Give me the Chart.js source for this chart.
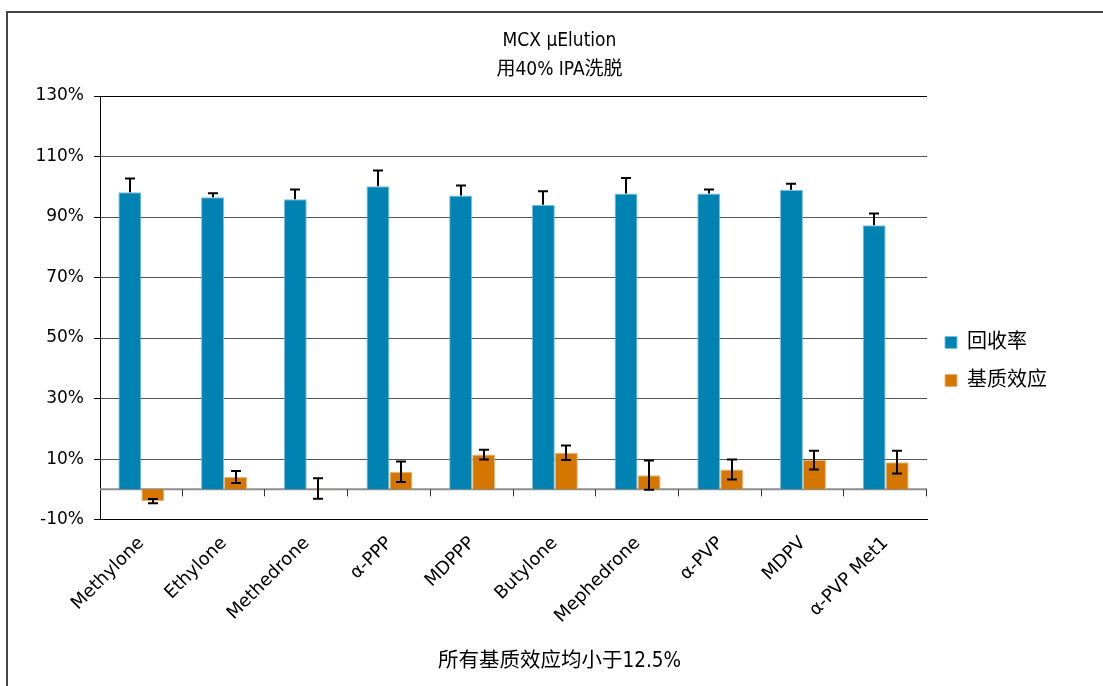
<!DOCTYPE html>
<html>
<head>
<meta charset="utf-8">
<script src="https://cdn.jsdelivr.net/npm/chart.js@4.4.0/dist/chart.umd.min.js"></script>
<style>
  html, body { margin: 0; padding: 0; background: #fff; overflow: hidden; }
  #wrap { position: relative; width: 1103px; height: 686px; }
  #frame { position: absolute; left: 6px; top: 11px; width: 1200px; height: 800px; border: 2px solid #444; box-sizing: border-box; }
  #myChart { position: absolute; left: 0; top: 0; }
</style>
</head>
<body>
<div id="wrap">
  <div id="frame"></div>
  <canvas id="myChart" width="1103" height="686"></canvas>
</div>
<script>
// data
const categories = ['Methylone', 'Ethylone', 'Methedrone', 'α-PPP', 'MDPPP', 'Butylone', 'Mephedrone', 'α-PVP', 'MDPV', 'α-PVP Met1'];
const recovery = [98.2, 96.5, 95.9, 100.2, 97.1, 94.1, 97.8, 97.8, 99.0, 87.3];
const recoveryErr = [4.5, 1.4, 3.2, 5.2, 3.3, 4.4, 5.1, 1.3, 2.0, 3.9];
const matrixEffect = [-3.9, 4.1, 0.3, 5.8, 11.5, 12.1, 4.7, 6.6, 9.7, 9.0];
const matrixErr = [0.7, 2.0, 3.4, 3.4, 1.6, 2.4, 4.85, 3.3, 3.1, 3.75];
const yTicks = [-10, 10, 30, 50, 70, 90, 110, 130];

const latin = '"DejaVu Sans", "Noto Sans CJK SC", sans-serif';
const narrow = '"Liberation Sans Narrow", "DejaVu Sans Condensed", "Noto Sans CJK SC", sans-serif';

// zero line, error bars and category ticks on the zero line
const extras = {
    id: 'extras',
    afterLayout(chart) {
        // titles sit a bit right of the canvas centre in the original
        chart.boxes.forEach(b => {
            if (b instanceof Chart.Title._element) {
                b.left += 24;
                b.right += 24;
            }
        });
    },
    beforeDatasetsDraw(chart) {
        const c = chart.ctx;
        const y0 = chart.scales.y.getPixelForValue(0);
        const a = chart.chartArea;
        c.save();
        c.strokeStyle = '#8c8c8c';
        c.lineWidth = 2;
        c.beginPath();
        c.moveTo(a.left, y0);
        c.lineTo(a.right, y0);
        c.stroke();
        c.restore();
    },
    afterDatasetsDraw(chart) {
        const c = chart.ctx;
        const y = chart.scales.y;
        const x = chart.scales.x;
        c.save();
        const y0 = y.getPixelForValue(0);
        c.strokeStyle = '#333';
        c.lineWidth = 1;
        const n = categories.length;
        for (let i = 1; i <= n; i++) {
            const px = Math.round(x.left + i * x.width / n) - 0.5;
            c.beginPath();
            c.moveTo(px, y0);
            c.lineTo(px, y0 + 7);
            c.stroke();
        }
        // error bars
        c.strokeStyle = '#000';
        c.lineWidth = 2;
        const errs = [recoveryErr, matrixErr];
        const both = [false, true];
        chart.data.datasets.forEach((ds, di) => {
            const meta = chart.getDatasetMeta(di);
            meta.data.forEach((bar, i) => {
                const v = ds.data[i];
                const e = errs[di][i];
                const top = y.getPixelForValue(v + e);
                const bot = both[di] ? y.getPixelForValue(v - e) : y.getPixelForValue(v);
                const bx = Math.round(bar.x);
                c.beginPath();
                c.moveTo(bx, top);
                c.lineTo(bx, bot);
                c.moveTo(bx - 5, top);
                c.lineTo(bx + 5, top);
                if (both[di]) {
                    c.moveTo(bx - 5, bot);
                    c.lineTo(bx + 5, bot);
                }
                c.stroke();
            });
        });
        c.restore();
    }
};

new Chart(document.getElementById('myChart'), {
    type: 'bar',
    data: {
        labels: categories,
        datasets: [{
            label: '回收率',
            data: recovery,
            backgroundColor: '#0082b3',
            borderColor: '#7fc0da',
            borderWidth: 1
        }, {
            label: '基质效应',
            data: matrixEffect,
            backgroundColor: '#d47600',
            borderColor: '#eab47a',
            borderWidth: 1
        }]
    },
    options: {
        responsive: false,
        animation: false,
        layout: {
            padding: { left: 14, right: 46, top: 27, bottom: 12 }
        },
        datasets: {
            bar: { barPercentage: 1, categoryPercentage: 0.556 }
        },
        scales: {
            x: {
                grid: { display: false },
                border: { color: '#000', width: 1 },
                ticks: {
                    color: '#000',
                    font: { family: latin, size: 18 },
                    minRotation: 45,
                    maxRotation: 45,
                    padding: 5
                }
            },
            y: {
                min: -10,
                max: 130,
                afterBuildTicks(axis) {
                    axis.ticks = yTicks.map(v => ({ value: v }));
                },
                afterFit(axis) {
                    axis.width = 86;
                },
                grid: {
                    color: ctx => {
                        const v = ctx.tick && ctx.tick.value;
                        return (v === -10 || v === 130) ? '#000' : '#555';
                    },
                    lineWidth: 1,
                    tickLength: 6,
                    tickColor: '#000'
                },
                border: { color: '#000', width: 1 },
                ticks: {
                    color: '#000',
                    font: { family: latin, size: 17 },
                    padding: 10,
                    callback: v => v + '%'
                }
            }
        },
        plugins: {
            title: {
                display: true,
                text: ['MCX µElution', '用40% IPA洗脱'],
                color: '#000',
                font: { family: narrow, size: 19, weight: 'normal', lineHeight: 1.5 },
                padding: { top: 0, bottom: 12 }
            },
            subtitle: {
                display: true,
                position: 'bottom',
                text: '所有基质效应均小于12.5%',
                color: '#000',
                font: { family: narrow, size: 20.5, weight: 'normal' },
                padding: { top: 17, bottom: 0 }
            },
            legend: {
                position: 'right',
                title: {
                    display: true,
                    text: ' ',
                    font: { size: 10 },
                    padding: 5
                },
                labels: {
                    color: '#000',
                    boxWidth: 12,
                    boxHeight: 12,
                    padding: 18,
                    font: { family: latin, size: 20 }
                }
            },
            tooltip: { enabled: false }
        }
    },
    plugins: [extras]
});
</script>
</body>
</html>
